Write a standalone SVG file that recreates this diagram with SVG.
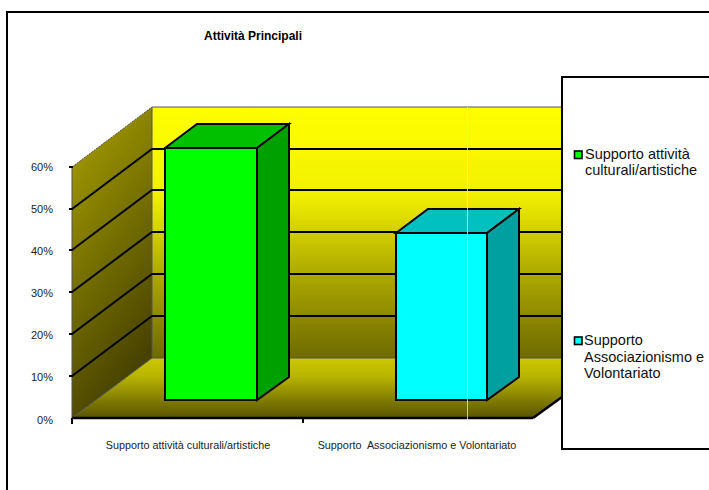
<svg xmlns="http://www.w3.org/2000/svg" width="709" height="490" viewBox="0 0 709 490">
  <defs>
    <linearGradient id="gBack" x1="0" y1="107" x2="0" y2="358" gradientUnits="userSpaceOnUse">
      <stop offset="0" stop-color="#FFFF00"/>
      <stop offset="0.35" stop-color="#F2F000"/>
      <stop offset="0.65" stop-color="#B0AC00"/>
      <stop offset="1" stop-color="#6E6A00"/>
    </linearGradient>
    <linearGradient id="gSide" x1="0" y1="0" x2="0.35" y2="1">
      <stop offset="0" stop-color="#ABA300"/>
      <stop offset="1" stop-color="#474200"/>
    </linearGradient>
    <linearGradient id="gFloor" x1="0" y1="358" x2="0" y2="418" gradientUnits="userSpaceOnUse">
      <stop offset="0" stop-color="#CBC700"/>
      <stop offset="0.3" stop-color="#B9B500"/>
      <stop offset="1" stop-color="#585300"/>
    </linearGradient>
    <style>
      .grid { stroke: #000; stroke-width: 2; fill: none; }
      .edge { stroke: #555; stroke-width: 1; fill: none; }
      .bar { stroke: #000; stroke-width: 2; stroke-linejoin: miter; }
      .axlbl { font-family: "Liberation Sans", Arial, sans-serif; font-size: 11px; fill: #222; text-anchor: end; }
      .catlbl { font-family: "Liberation Sans", Arial, sans-serif; font-size: 10.8px; fill: #222; text-anchor: middle; }
      .leg { font-family: "Liberation Sans", Arial, sans-serif; font-size: 14.5px; fill: #111; }
      .tick { stroke: #000; stroke-width: 2; }
    </style>
  </defs>

  <rect x="0" y="0" width="709" height="490" fill="#FFFFFF"/>
  <!-- outer chart frame -->
  <rect id="frame" x="7" y="12" width="720" height="500" fill="#FFFFFF" stroke="#000" stroke-width="2"/>

  <text id="title" x="253" y="40" font-family="'Liberation Sans', Arial, sans-serif" font-size="12" font-weight="bold" text-anchor="middle" fill="#000">Attività Principali</text>

  <!-- plot area walls -->
  <g id="walls">
    <rect x="152" y="107" width="410" height="251" fill="url(#gBack)"/>
    <polygon points="72,167 152,107 152,358 72,418" fill="url(#gSide)"/>
    <polygon points="72,418 152,358 562,358 562,397 533,418" fill="url(#gFloor)"/>
    <line class="edge" x1="152" y1="107" x2="562" y2="107"/>
    <line class="edge" x1="72" y1="167" x2="152" y2="107" stroke-dasharray="2,1"/>
    <line class="edge" x1="152" y1="107" x2="152" y2="358"/>
    <line class="edge" x1="152" y1="358" x2="562" y2="358" stroke="#444" stroke-width="1.5"/>
    <line class="edge" x1="72" y1="418" x2="152" y2="358"/>
    <line class="edge" x1="72" y1="167" x2="72" y2="418" stroke="#333"/>
  </g>

  <!-- gridlines -->
  <g id="gridlines">
    <polyline class="grid" points="72,376 152,316 562,316"/>
    <polyline class="grid" points="72,334 152,274 562,274"/>
    <polyline class="grid" points="72,292 152,232 562,232"/>
    <polyline class="grid" points="72,250 152,190 562,190"/>
    <polyline class="grid" points="72,209 152,149 562,149"/>
  </g>

  <!-- axes -->
  <g id="axes">
    <line x1="72" y1="418" x2="533" y2="418" stroke="#000" stroke-width="2.5"/>
    <line x1="533" y1="418" x2="562" y2="397" stroke="#000" stroke-width="2.5"/>
    <line class="tick" x1="72" y1="418" x2="72" y2="424"/>
    <line class="tick" x1="303" y1="418" x2="303" y2="423"/>
    <line class="tick" x1="69" y1="376" x2="73" y2="376"/>
    <line class="tick" x1="69" y1="334" x2="73" y2="334"/>
    <line class="tick" x1="69" y1="292" x2="73" y2="292"/>
    <line class="tick" x1="69" y1="250" x2="73" y2="250"/>
    <line class="tick" x1="69" y1="209" x2="73" y2="209"/>
    <line class="tick" x1="69" y1="167" x2="73" y2="167"/>
    <text class="axlbl" x="53" y="171">60%</text>
    <text class="axlbl" x="53" y="213">50%</text>
    <text class="axlbl" x="53" y="255">40%</text>
    <text class="axlbl" x="53" y="297">30%</text>
    <text class="axlbl" x="53" y="339">20%</text>
    <text class="axlbl" x="53" y="381">10%</text>
    <text class="axlbl" x="53" y="424">0%</text>
    <text class="catlbl" x="188" y="449">Supporto attività culturali/artistiche</text>
    <text class="catlbl" x="417" y="449" xml:space="preserve">Supporto  Associazionismo e Volontariato</text>
  </g>

  <!-- bars -->
  <g id="bar-culturali">
    <polygon class="bar" points="165,148 197,124 289,124 257,148" fill="#00C000"/>
    <polygon class="bar" points="257,148 289,124 289,377 257,400" fill="#00A000"/>
    <rect class="bar" x="165" y="148" width="92" height="252" fill="#00FF00"/>
  </g>
  <g id="bar-associazionismo">
    <polygon class="bar" points="396,233 428,209 519,209 487,233" fill="#00C0C0"/>
    <polygon class="bar" points="487,233 519,209 519,377 487,400" fill="#00A0A0"/>
    <rect class="bar" x="396" y="233" width="91" height="167" fill="#00FFFF"/>
  </g>

  <line id="artifact" x1="467.5" y1="107" x2="467.5" y2="420" stroke="#E8E8E0" stroke-width="1" opacity="0.8"/>

  <!-- legend -->
  <g id="legend">
    <rect x="562" y="77" width="200" height="372" fill="#FFFFFF" stroke="#000" stroke-width="2"/>
    <g id="legend-culturali">
      <rect x="574.5" y="151" width="7.5" height="7.5" fill="#00FF00" stroke="#000" stroke-width="1.6"/>
      <text class="leg" x="585" y="159">Supporto attività</text>
      <text class="leg" x="585" y="175">culturali/artistiche</text>
    </g>
    <g id="legend-associazionismo">
      <rect x="574.5" y="337" width="7.5" height="7.5" fill="#00FFFF" stroke="#000" stroke-width="1.6"/>
      <text class="leg" x="584" y="345">Supporto</text>
      <text class="leg" x="584" y="361.5">Associazionismo e</text>
      <text class="leg" x="584" y="378">Volontariato</text>
    </g>
  </g>
</svg>
